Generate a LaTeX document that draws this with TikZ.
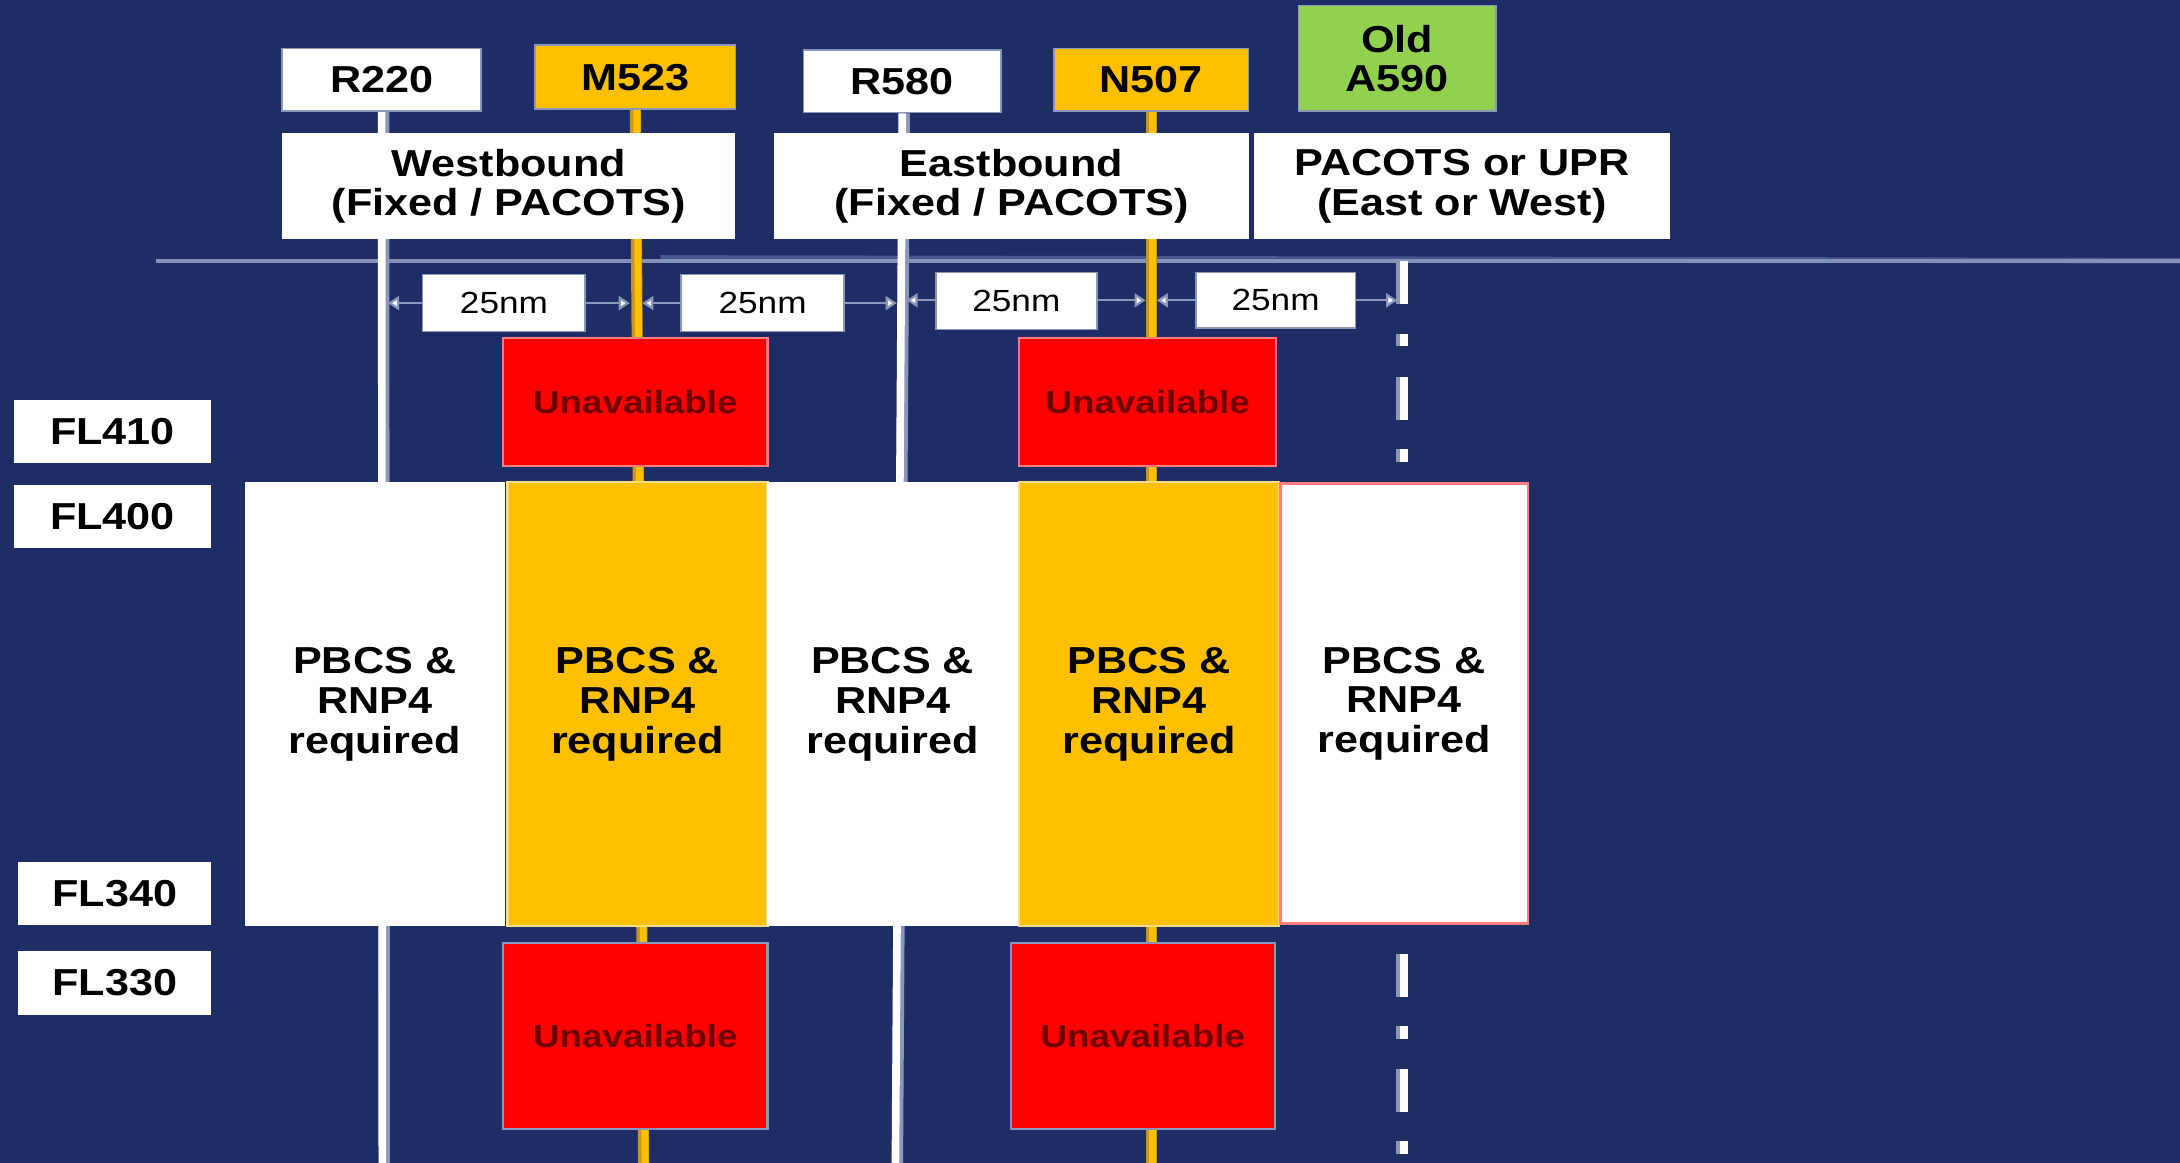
\documentclass[tikz,border=0pt]{standalone}
\usepackage{fontspec}
\setmainfont{Liberation Sans}[FakeStretch=1.15]
\usetikzlibrary{arrows.meta}
\definecolor{navy}{HTML}{1E2D66}
\definecolor{edgec}{HTML}{8A96BA}
\definecolor{gold}{HTML}{FFC000}
\definecolor{darkgold}{HTML}{C8961E}
\definecolor{goldedge}{HTML}{FFDD80}
\definecolor{grn}{HTML}{92D050}
\definecolor{pinkedge}{HTML}{FF7C80}
\definecolor{dred}{HTML}{6E0000}
\definecolor{hline}{HTML}{8591B8}
\definecolor{hband}{HTML}{465690}
\pgfdeclarelayer{back}
\pgfdeclarelayer{lines}
\pgfsetlayers{back,lines,main}
\begin{document}
\begin{tikzpicture}[x=1pt,y=-1pt,
  sz/.style 2 args={minimum width=#1pt,minimum height=#2pt},
  lbl/.style={rectangle,font=\bfseries\fontsize{27}{28.5}\selectfont,align=center,inner sep=0pt,text=black},
  tagw/.style={lbl,fill=white,draw=edgec,line width=1.2pt},
  tagy/.style={lbl,fill=gold,draw=edgec,line width=1.2pt},
  tagg/.style={lbl,fill=grn,draw=edgec,line width=1.2pt},
  dirbox/.style={lbl,fill=white},
  flbox/.style={lbl,fill=white},
  nmbox/.style={lbl,font=\fontsize{22}{24}\selectfont,fill=white,draw=edgec,line width=1.2pt},
  unavtop/.style={lbl,font=\bfseries\fontsize{23}{25}\selectfont,text=dred,fill=red,draw=pinkedge,line width=1.5pt},
  unavbot/.style={lbl,font=\bfseries\fontsize{23}{25}\selectfont,text=dred,fill=red,draw=edgec,line width=1.5pt},
  bigw/.style={lbl,fill=white},
  bigy/.style={lbl,fill=gold,draw=goldedge,line width=1.5pt},
  bigr/.style={lbl,fill=white,draw=pinkedge,line width=2pt},
  wedge/.style={draw=edgec,line width=8pt},
  wroute/.style={draw=white,line width=5.5pt},
  yedge/.style={draw=darkgold,line width=8pt},
  yroute/.style={draw=gold,line width=5pt},
  dim/.style={draw=edgec,line width=1.6pt,{Triangle[length=8pt,width=10pt,fill=white]}-{Triangle[length=8pt,width=10pt,fill=white]}},
  dashpat/.style={dash pattern=on 31pt off 21pt on 9pt off 22pt}
]
\useasboundingbox (0,0) rectangle (1568,836);

% top route labels
\node[tagw,sz={143}{45}] (r220) at (274.5,57.5) {R220};
\node[tagy,sz={144}{46}] (m523) at (457,55.5) {M523};
\node[tagw,sz={142}{45}] (r580) at (649,58.5) {R580};
\node[tagy,sz={140}{45}] (n507) at (828,57.5) {N507};
\node[tagg,sz={142}{76}] (a590) at (1005,42) {Old\\A590};

% direction boxes
\node[dirbox,sz={326}{76}] (west) at (366,134) {Westbound\\(Fixed / PACOTS)};
\node[dirbox,sz={341}{76}] (east) at (727.5,134) {Eastbound\\(Fixed / PACOTS)};
\node[dirbox,sz={299}{76}] (pacots) at (1051.5,134) {PACOTS or UPR\\(East or West)};

% spacing boxes
\node[nmbox,sz={117}{41}] (nm1) at (362.5,218) {25nm};
\node[nmbox,sz={117}{41}] (nm2) at (548.5,218) {25nm};
\node[nmbox,sz={116}{41}] (nm3) at (731,216.5) {25nm};
\node[nmbox,sz={115}{40}] (nm4) at (917.5,216) {25nm};

% unavailable boxes
\node[unavtop,sz={190}{92}] (un1) at (457,289) {Unavailable};
\node[unavtop,sz={185}{92}] (un2) at (825.5,289) {Unavailable};
\node[unavbot,sz={190}{134}] (un3) at (457,745) {Unavailable};
\node[unavbot,sz={190}{134}] (un4) at (822,745) {Unavailable};

% PBCS blocks
\node[bigw,sz={187}{319}] (b1) at (269.5,506.5) {PBCS \&\\RNP4\\required};
\node[bigy,sz={187}{319}] (b2) at (458.5,506.5) {PBCS \&\\RNP4\\required};
\node[bigw,sz={180}{319}] (b3) at (642,506.5) {PBCS \&\\RNP4\\required};
\node[bigy,sz={187}{319}] (b4) at (826.5,506.5) {PBCS \&\\RNP4\\required};
\node[bigr,sz={178}{316}] (b5) at (1010,506) {PBCS \&\\RNP4\\required};

% flight levels
\node[flbox,sz={142}{45}] (fl410) at (81,310.5) {FL410};
\node[flbox,sz={142}{45}] (fl400) at (81,371.5) {FL400};
\node[flbox,sz={139}{45}] (fl340) at (82.5,642.5) {FL340};
\node[flbox,sz={139}{46}] (fl330) at (82.5,707) {FL330};

% coordinates
\coordinate (hl0) at (112,187.5);
\coordinate (hl1) at (1575,187.5);
\coordinate (hb0) at (475,185.5);
\coordinate (r220end) at (275,842);
\coordinate (m523end) at (463,842);
\coordinate (r580end) at (644,842);
\coordinate (n507end) at (828,842);
\coordinate (a590top) at (1009,188);
\coordinate (a590end) at (1009,842);
\coordinate (d1a) at (279,218);
\coordinate (d1b) at (453,218);
\coordinate (d2a) at (462,218);
\coordinate (d2b) at (645,218);
\coordinate (d3a) at (652,216);
\coordinate (d3b) at (824,216);
\coordinate (d4a) at (832,216);
\coordinate (d4b) at (1005,216);

\begin{pgfonlayer}{back}
\fill[navy] (-6,-6) rectangle (1574,842);
\end{pgfonlayer}

\begin{pgfonlayer}{lines}
% horizontal separator
\draw[hband,line width=4pt] (hb0) -- (hl1);
\draw[hline,line width=2.8pt] (hl0) -- (hl1);
% routes
\draw[wedge] ([xshift=1.5pt]r220.south) -- ([xshift=1.5pt]r220end);
\draw[wroute] (r220.south) -- (r220end);
\draw[yedge] (m523.south) -- (m523end);
\draw[yroute] ([xshift=1pt]m523.south) -- ([xshift=1pt]m523end);
\draw[wedge] ([xshift=1.5pt]r580.south) -- ([xshift=1.5pt]r580end);
\draw[wroute] (r580.south) -- (r580end);
\draw[yedge] (n507.south) -- (n507end);
\draw[yroute] ([xshift=1pt]n507.south) -- ([xshift=1pt]n507end);
\draw[draw=edgec,line width=9pt,dashpat] ([xshift=-0.5pt]a590top) -- ([xshift=-0.5pt]a590end);
\draw[draw=white,line width=6pt,dashpat] ([xshift=1pt]a590top) -- ([xshift=1pt]a590end);
% spacing arrows
\draw[dim] (d1a) -- (d1b);
\draw[dim] (d2a) -- (d2b);
\draw[dim] (d3a) -- (d3b);
\draw[dim] (d4a) -- (d4b);
\end{pgfonlayer}
\end{tikzpicture}
\end{document}
